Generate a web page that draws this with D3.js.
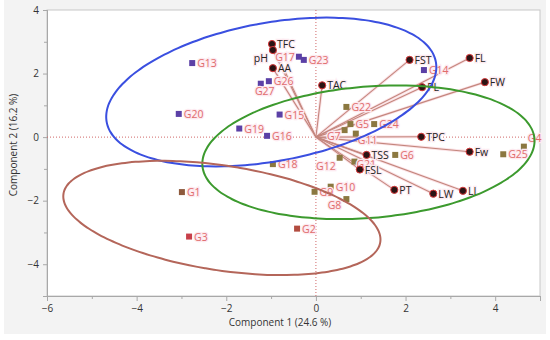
<!DOCTYPE html>
<html>
<head>
<meta charset="utf-8">
<script src="https://cdn.jsdelivr.net/npm/d3@7"></script>
<style>
  body { margin: 0; background: #fff; }
  svg text { font-family: "Open Sans", "Noto Sans", sans-serif; }
</style>
</head>
<body>
<div id="chart"></div>
<script>
// group scores (Component 1, Component 2)
var groupNames = ["G1","G2","G3","G4","G5","G6","G7","G8","G9","G10","G11","G12","G13","G14",
  "G15","G16","G17","G18","G19","G20","G21","G22","G23","G24","G25","G26","G27"];
var groupX = [-2.99,-0.42,-2.83,4.64,0.77,1.77,0.64,0.68,-0.03,0.33,0.89,0.53,-2.76,2.41,
  -0.81,-1.09,-0.38,-0.96,-1.71,-3.06,0.86,0.68,-0.27,1.30,4.18,-1.05,-1.23];
var groupY = [-1.73,-2.88,-3.13,-0.30,0.41,-0.56,0.22,-1.95,-1.72,-1.56,0.11,-0.65,2.33,2.11,
  0.71,0.04,2.53,-0.85,0.27,0.73,-0.77,0.95,2.43,0.41,-0.54,1.76,1.68];
// cluster of each group: 0 = blue, 1 = green, 2 = brown, 3 = red
var groupCluster = [2,3,3,1,1,1,1,1,1,1,1,1,0,0,0,0,0,1,0,0,1,1,0,1,1,0,0];

// variable loadings
var varNames = ["TFC","pH","AA","TAC","FST","FL","FW","PL","TPC","Fw","TSS","FSL","PT","LW","LL"];
var varX = [-0.98,-0.96,-0.96,0.14,2.09,3.43,3.77,2.37,2.35,3.43,1.13,0.98,1.75,2.62,3.28];
var varY = [2.93,2.74,2.17,1.63,2.43,2.49,1.73,1.57,0.01,-0.46,-0.56,-1.02,-1.66,-1.78,-1.69];

// cluster ellipses: centre and two semi-axis vectors, in data units
var ellCx = [-0.996, 1.172, -2.098];
var ellCy = [1.42, -0.477, -2.544];
var ellU = [[3.672, 0.948], [3.704, 0.426], [3.534, -0.762]];
var ellV = [[0.282, -2.142], [0.121, -2.059], [-0.179, -1.628]];

var xTicks = [-6,-4,-2,0,2,4];
var yTicks = [-4,-2,0,2,4];

var W = 550, H = 340;
var m = {left: 47, right: 10, top: 10, bottom: 44};

var svg = d3.select("#chart").append("svg")
  .attr("width", W).attr("height", H);

svg.append("rect").attr("x", 4).attr("y", 0).attr("width", 542).attr("height", 334)
  .attr("fill", "#f3f3f3");

var x = d3.scaleLinear().domain([-6, 5]).range([m.left, W - m.right]);
var y = d3.scaleLinear().domain([-5, 4]).range([H - m.bottom, m.top]);

svg.append("rect")
  .attr("x", x(-6)).attr("y", y(4))
  .attr("width", x(5) - x(-6)).attr("height", y(-5) - y(4))
  .attr("fill", "#fff").attr("stroke", "#c8c8c8");

// axes
svg.append("g").attr("transform", "translate(0," + y(-5) + ")")
  .call(d3.axisBottom(x).tickValues(xTicks).tickSize(5).tickPadding(4).tickFormat(d3.format("d")));
svg.append("g").attr("transform", "translate(0," + y(-5) + ")")
  .call(d3.axisBottom(x).tickValues([-5,-3,-1,1,3,5]).tickSize(3).tickFormat(""));
svg.append("g").attr("transform", "translate(" + x(-6) + ",0)")
  .call(d3.axisLeft(y).tickValues(yTicks).tickSize(4).tickPadding(4).tickFormat(d3.format("d")));
svg.append("g").attr("transform", "translate(" + x(-6) + ",0)")
  .call(d3.axisLeft(y).tickValues([-5,-3,-1,1,3]).tickSize(3).tickFormat(""));

svg.selectAll(".domain").attr("stroke", "#a8a8a8");
svg.selectAll(".tick line").attr("stroke", "#a8a8a8");
svg.selectAll(".tick text").attr("fill", "#333").style("font-size", "10px");

svg.append("text").attr("x", 280).attr("y", 326).attr("text-anchor", "middle")
  .attr("fill", "#333").style("font-size", "10px")
  .text("Component 1  (24.6 %)");
svg.append("text").attr("transform", "translate(17,145) rotate(-90)")
  .attr("text-anchor", "middle").attr("fill", "#333").style("font-size", "10px")
  .text("Component 2  (16.2 %)");

// zero reference lines
svg.append("line").attr("x1", x(-6)).attr("x2", x(5)).attr("y1", y(0)).attr("y2", y(0))
  .attr("stroke", "#d06868").attr("stroke-dasharray", "1,2");
svg.append("line").attr("x1", x(0)).attr("x2", x(0)).attr("y1", y(4)).attr("y2", y(-5))
  .attr("stroke", "#d06868").attr("stroke-dasharray", "1,2");

// loading vectors
var vars = varNames.map(function(n, i) { return {name: n, x: varX[i], y: varY[i]}; });
svg.append("g").selectAll("line").data(vars).join("line")
  .attr("x1", x(0)).attr("y1", y(0))
  .attr("x2", function(d) { return x(d.x); })
  .attr("y2", function(d) { return y(d.y); })
  .attr("stroke", "#fbe3e7").attr("stroke-width", 3);
svg.append("g").selectAll("line").data(vars).join("line")
  .attr("x1", x(0)).attr("y1", y(0))
  .attr("x2", function(d) { return x(d.x); })
  .attr("y2", function(d) { return y(d.y); })
  .attr("stroke", "#c4867d").attr("stroke-width", 1.1);

// group squares
var clusterColor = ["#5b40a6", "#8b7840", "#8e5a3c", "#c8404a"];
var groups = groupNames.map(function(n, i) {
  return {name: n, x: groupX[i], y: groupY[i], c: groupCluster[i]};
});
groups[1].col = "#b24c40";

svg.append("g").selectAll("rect").data(groups).join("rect")
  .attr("x", function(d) { return x(d.x) - 3; })
  .attr("y", function(d) { return y(d.y) - 3; })
  .attr("width", 6).attr("height", 6)
  .attr("fill", function(d) { return d.col || clusterColor[d.c]; });

// label placement tweaks (dx, dy, anchor)
var place = {
  G17: [-4, 4, "end"], G27: [4, 11, "middle"], G7: [-4, 10, "end"], G11: [2, 10, "start"],
  G12: [-4, 12, "end"], G8: [-5, 10, "end"], G4: [4, -5, "start"], G21: [2, 6, "start"],
  pH: [-5, 12, "end"]
};
function lab(sel, color) {
  sel.attr("x", function(d) { var p = place[d.name]; return x(d.x) + (p ? p[0] : 5); })
    .attr("y", function(d) { var p = place[d.name]; return y(d.y) + (p ? p[1] : 4); })
    .attr("text-anchor", function(d) { var p = place[d.name]; return p ? p[2] : "start"; })
    .attr("fill", color).style("font-size", "10.5px")
    .attr("stroke", "#fdeaf0").attr("stroke-width", 2.5).attr("paint-order", "stroke")
    .text(function(d) { return d.name; });
}
svg.append("g").selectAll("text").data(groups).join("text").call(lab, "#e06c6c");

// variable points
svg.append("g").selectAll("circle").data(vars).join("circle")
  .attr("cx", function(d) { return x(d.x); })
  .attr("cy", function(d) { return y(d.y); })
  .attr("r", 3.6)
  .attr("fill", "#2a1414").attr("stroke", "#d8383a").attr("stroke-width", 1);
svg.append("g").selectAll("text").data(vars).join("text").call(lab, "#222");

// cluster ellipses
var ellColor = ["#3a4fe0", "#3c9a2e", "#b4665a"];
var ts = d3.range(0, 360, 3).map(function(a) { return a * Math.PI / 180; });
var line = d3.line()
  .x(function(d) { return x(d[0]); })
  .y(function(d) { return y(d[1]); })
  .curve(d3.curveCardinalClosed);
ellCx.forEach(function(cx, i) {
  var pts = ts.map(function(t) {
    return [cx + Math.cos(t) * ellU[i][0] + Math.sin(t) * ellV[i][0],
            ellCy[i] + Math.cos(t) * ellU[i][1] + Math.sin(t) * ellV[i][1]];
  });
  svg.append("path").datum(pts)
    .attr("d", line)
    .attr("fill", "none")
    .attr("stroke", ellColor[i])
    .attr("stroke-width", 2);
});
</script>
</body>
</html>
